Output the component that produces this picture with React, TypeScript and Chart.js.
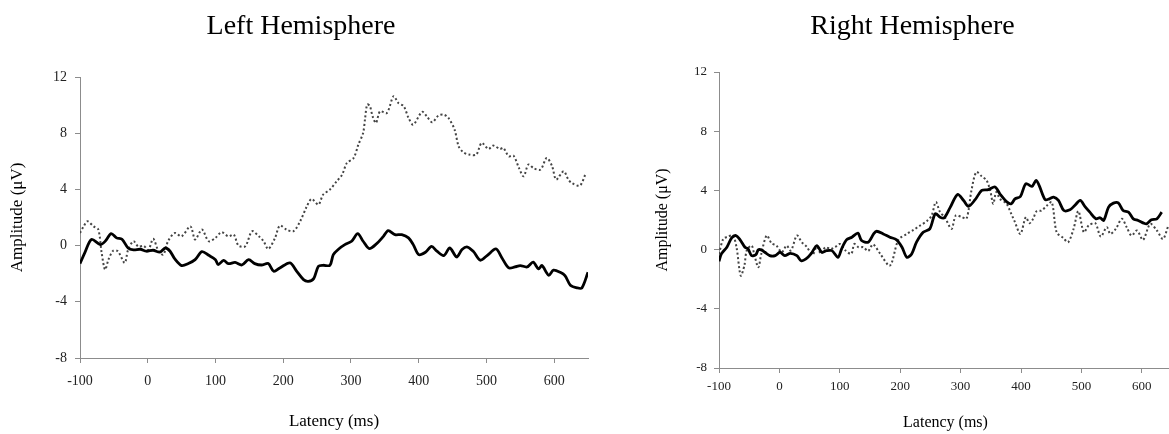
import React, { useEffect, useRef } from "react";
import { Chart, registerables } from "chart.js";
Chart.register(...registerables);

// ---- tick labels ----
const xTicks = [-100, 0, 100, 200, 300, 400, 500, 600];
const yTicks = [-8, -4, 0, 4, 8, 12];

// ---- data: [latency (ms), amplitude (µV)] ----
const leftSolid: [number, number][] = [
  [-100, -1.28], [-93, -0.52], [-83, 0.43], [-70, 0.07], [-63, 0.3], [-54, 0.85], [-46, 0.55], [-38, 0.45],
  [-29, -0.17], [-21, -0.3], [-11, -0.26], [-2, -0.4], [8, -0.33], [18, -0.47], [26, -0.17], [33, -0.4],
  [40, -0.95], [50, -1.42], [60, -1.28], [70, -1.0], [80, -0.43], [90, -0.69], [100, -1.0], [104, -1.35],
  [112, -1.05], [119, -1.28], [129, -1.2], [139, -1.38], [149, -1.0], [158, -1.28], [168, -1.38], [178, -1.28],
  [186, -1.83], [195, -1.59], [210, -1.23], [220, -1.83], [230, -2.42], [237, -2.54], [245, -2.35], [252, -1.47],
  [259, -1.4], [269, -1.4], [274, -0.64], [282, -0.24], [291, 0.07], [301, 0.31], [310, 0.85], [318, 0.31],
  [327, -0.21], [338, 0.14], [348, 0.66], [355, 1.07], [365, 0.78], [375, 0.78], [385, 0.55], [392, 0.07],
  [400, -0.64], [410, -0.47], [419, -0.05], [427, -0.4], [437, -0.71], [446, -0.17], [456, -0.81], [464, -0.28],
  [472, -0.1], [481, -0.43], [491, -1.04], [501, -0.71], [514, -0.24], [523, -0.88], [533, -1.59], [542, -1.52],
  [550, -1.42], [560, -1.52], [569, -1.18], [577, -1.66], [582, -1.42], [592, -2.11], [599, -1.75], [609, -1.9],
  [616, -2.13], [624, -2.82], [634, -3.01], [641, -3.01], [650, -1.9],
];

const leftDotted: [number, number][] = [
  [-100, 0.9], [-95, 1.33], [-89, 1.73], [-80, 1.37], [-73, 1.15], [-68, -0.52], [-63, -1.71], [-58, -1.0],
  [-51, -0.36], [-44, -0.4], [-34, -1.23], [-29, -0.3], [-21, 0.31], [-14, -0.07], [-6, -0.02], [1, -0.3],
  [8, 0.48], [16, -0.4], [23, -0.64], [30, 0.31], [40, 0.9], [50, 0.66], [63, 1.37], [70, 0.43],
  [80, 1.14], [90, 0.31], [100, 0.55], [109, 0.95], [119, 0.66], [127, 0.78], [134, 0.0], [144, -0.05],
  [154, 1.02], [164, 0.66], [171, 0.31], [178, -0.24], [188, 0.55], [195, 1.42], [205, 1.14], [215, 1.02],
  [225, 1.73], [235, 2.8], [242, 3.32], [252, 2.92], [259, 3.63], [269, 3.99], [279, 4.58], [287, 5.05],
  [294, 5.88], [304, 6.24], [311, 7.19], [318, 8.02], [321, 9.09], [324, 10.04], [328, 9.92], [332, 9.2],
  [337, 8.73], [343, 9.56], [353, 9.44], [363, 10.63], [370, 10.15], [378, 9.92], [385, 9.09], [392, 8.61],
  [405, 9.52], [412, 9.2], [420, 8.78], [429, 9.25], [437, 9.32], [444, 9.09], [453, 8.26], [459, 7.07],
  [466, 6.64], [474, 6.48], [485, 6.48], [493, 7.31], [503, 6.88], [510, 7.12], [520, 6.88], [525, 6.95],
  [533, 6.36], [540, 6.4], [548, 5.53], [555, 4.93], [562, 5.77], [570, 5.5], [580, 5.41], [589, 6.24],
  [597, 5.65], [603, 4.7], [614, 5.29], [621, 4.7], [626, 4.46], [638, 4.27], [646, 5.05],
];

const rightSolid: [number, number][] = [
  [-100, -0.79], [-96, -0.29], [-87, 0.16], [-79, 0.79], [-72, 0.95], [-65, 0.66], [-57, 0.16], [-52, 0.05],
  [-46, -0.41], [-39, -0.34], [-35, -0.02], [-30, -0.02], [-24, -0.18], [-16, -0.41], [-7, -0.41], [1, -0.18],
  [9, -0.41], [18, -0.25], [29, -0.41], [36, -0.75], [44, -0.63], [53, -0.25], [62, 0.27], [70, -0.18],
  [78, -0.07], [87, -0.07], [97, -0.52], [103, 0.05], [111, 0.66], [120, 0.84], [130, 1.11], [136, 0.61],
  [147, 0.5], [156, 1.06], [161, 1.24], [172, 1.06], [183, 0.84], [194, 0.66], [203, 0.16], [211, -0.52],
  [219, -0.29], [227, 0.5], [238, 1.17], [249, 1.4], [258, 2.42], [266, 2.19], [273, 2.15], [283, 2.87],
  [295, 3.73], [305, 3.32], [313, 2.92], [324, 3.37], [335, 4.0], [346, 4.05], [357, 4.23], [365, 3.77],
  [377, 3.21], [384, 3.1], [390, 3.43], [399, 3.59], [408, 4.45], [418, 4.27], [425, 4.68], [430, 4.34],
  [440, 3.37], [447, 3.43], [454, 3.55], [462, 3.32], [471, 2.64], [481, 2.69], [489, 2.98], [498, 3.32],
  [506, 2.91], [514, 2.53], [524, 2.08], [531, 2.15], [537, 1.98], [545, 2.87], [553, 3.14], [561, 3.16],
  [569, 2.64], [578, 2.53], [586, 2.08], [594, 1.97], [603, 1.79], [608, 1.74], [616, 2.01], [625, 2.08],
  [633, 2.53],
];

const rightDotted: [number, number][] = [
  [-100, -0.29], [-93, 0.72], [-86, 0.86], [-77, 0.95], [-71, 0.16], [-64, -1.76], [-58, -1.08], [-54, -0.05],
  [-46, 0.27], [-42, -0.25], [-35, -1.2], [-30, -0.29], [-21, 0.95], [-13, 0.43], [-5, 0.27], [4, -0.18],
  [12, 0.27], [19, -0.07], [29, 0.95], [37, 0.5], [45, 0.2], [55, -0.34], [62, 0.2], [69, -0.29],
  [76, 0.16], [84, 0.05], [92, 0.16], [100, 0.38], [109, -0.05], [119, -0.29], [124, 0.38], [131, 0.16],
  [139, 0.16], [147, -0.1], [155, 0.35], [167, -0.29], [183, -1.08], [197, 0.66], [211, 1.06], [222, 1.33],
  [233, 1.63], [244, 1.92], [252, 2.3], [259, 3.21], [266, 2.53], [274, 2.17], [285, 1.4], [292, 2.3],
  [302, 2.2], [310, 2.1], [318, 4.0], [326, 5.24], [335, 4.95], [343, 4.68], [349, 4.0], [354, 3.1],
  [359, 3.89], [365, 3.43], [376, 3.1], [383, 2.5], [390, 1.85], [399, 1.06], [408, 2.19], [414, 1.78],
  [420, 2.08], [426, 2.6], [434, 2.64], [443, 2.98], [451, 3.21], [459, 1.17], [470, 0.79], [478, 0.5],
  [487, 1.4], [495, 2.6], [504, 1.17], [512, 1.63], [523, 1.78], [532, 0.88], [542, 1.51], [548, 1.06],
  [557, 1.4], [567, 2.08], [575, 1.51], [583, 0.95], [592, 1.29], [602, 0.66], [614, 1.74], [625, 1.29],
  [635, 0.72], [644, 1.63],
];

const FONT = "'Liberation Serif', 'Times New Roman', serif";

type Panel = {
  title: string;
  solid: [number, number][];
  dotted: [number, number][];
  width: number;
  height: number;
  padLeft: number;
  padRight: number;
  yScaleWidth: number;
  xScaleHeight: number;
  titlePadTop: number;
  titlePadBottom: number;
  axisTitleSize: number;
  tickSize: number;
  yTitlePad: number;
  xTitlePad: number;
  xTickPad: number;
  yTickPad: number;
};

function PanelChart({ p }: { p: Panel }) {
  const ref = useRef<HTMLCanvasElement | null>(null);
  useEffect(() => {
    if (!ref.current) return;
    const axisColor = "#8c8c8c";
    const chart = new Chart(ref.current, {
      type: "line",
      data: {
        datasets: [
          {
            label: "solid",
            data: p.solid.map(([x, y]) => ({ x, y })),
            borderColor: "#000000",
            borderWidth: 2.8,
            pointRadius: 0,
            tension: 0.3,
            fill: false,
          },
          {
            label: "dotted",
            data: p.dotted.map(([x, y]) => ({ x, y })),
            borderColor: "#444444",
            borderWidth: 2,
            borderDash: [2, 2.4],
            pointRadius: 0,
            tension: 0.3,
            fill: false,
          },
        ],
      },
      options: {
        animation: false,
        responsive: false,
        maintainAspectRatio: false,
        layout: { padding: { left: p.padLeft, right: p.padRight, top: 0, bottom: 0 } },
        plugins: {
          legend: { display: false },
          tooltip: { enabled: false },
          title: {
            display: true,
            text: p.title,
            color: "#000000",
            font: { family: FONT, size: 28, weight: "normal" },
            padding: { top: p.titlePadTop, bottom: p.titlePadBottom },
          },
        },
        scales: {
          x: {
            type: "linear",
            min: -100,
            max: 650,
            afterBuildTicks: (scale: any) => {
              scale.ticks = xTicks.map((v) => ({ value: v }));
            },
            afterFit: (scale: any) => {
              scale.height = p.xScaleHeight;
            },
            ticks: {
              color: "#222222",
              font: { family: FONT, size: p.tickSize },
              padding: p.xTickPad,
              maxRotation: 0,
              autoSkip: false,
              callback: (v: any) => String(v),
            },
            grid: { drawOnChartArea: false, drawTicks: true, tickLength: 5, color: axisColor },
            border: { display: true, color: axisColor, width: 1 },
            title: {
              display: true,
              text: "Latency (ms)",
              color: "#000000",
              font: { family: FONT, size: p.axisTitleSize },
              padding: { top: 0, bottom: p.xTitlePad },
            },
          },
          y: {
            type: "linear",
            min: -8,
            max: 12,
            afterBuildTicks: (scale: any) => {
              scale.ticks = yTicks.map((v) => ({ value: v }));
            },
            afterFit: (scale: any) => {
              scale.width = p.yScaleWidth;
            },
            ticks: {
              color: "#222222",
              font: { family: FONT, size: p.tickSize },
              padding: p.yTickPad,
              callback: (v: any) => String(v),
            },
            grid: { drawOnChartArea: false, drawTicks: true, tickLength: 5, color: axisColor },
            border: { display: true, color: axisColor, width: 1 },
            title: {
              display: true,
              text: "Amplitude (\u03bcV)",
              color: "#000000",
              font: { family: FONT, size: p.axisTitleSize },
              padding: { top: p.yTitlePad, bottom: 0 },
            },
          },
        },
      },
    } as any);
    return () => chart.destroy();
  }, [p]);
  return (
    <canvas
      ref={ref}
      width={p.width}
      height={p.height}
      style={{ width: p.width, height: p.height, display: "block" }}
    />
  );
}

const leftPanel: Panel = {
  title: "Left Hemisphere",
  solid: leftSolid,
  dotted: leftDotted,
  width: 600,
  height: 434,
  padLeft: 14,
  padRight: 12,
  yScaleWidth: 66,
  xScaleHeight: 76,
  titlePadTop: 10.2,
  titlePadBottom: 33.2,
  axisTitleSize: 17,
  tickSize: 14,
  yTitlePad: -6.2,
  xTitlePad: 2.1,
  xTickPad: 10.4,
  yTickPad: 8,
};

const rightPanel: Panel = {
  title: "Right Hemisphere",
  solid: rightSolid,
  dotted: rightDotted,
  width: 522,
  height: 434,
  padLeft: 0,
  padRight: 3,
  yScaleWidth: 66,
  xScaleHeight: 66,
  titlePadTop: 10.2,
  titlePadBottom: 28.2,
  axisTitleSize: 16,
  tickSize: 13,
  yTitlePad: 0.4,
  xTitlePad: 1.4,
  xTickPad: 6.2,
  yTickPad: 7,
};

export default function App() {
  return (
    <div
      style={{
        position: "absolute",
        left: 0,
        top: 0,
        width: 1169,
        height: 434,
        overflow: "hidden",
        background: "#ffffff",
      }}
    >
      <div style={{ position: "absolute", left: 0, top: 0 }}>
        <PanelChart p={leftPanel} />
      </div>
      <div style={{ position: "absolute", left: 653, top: 0 }}>
        <PanelChart p={rightPanel} />
      </div>
    </div>
  );
}
